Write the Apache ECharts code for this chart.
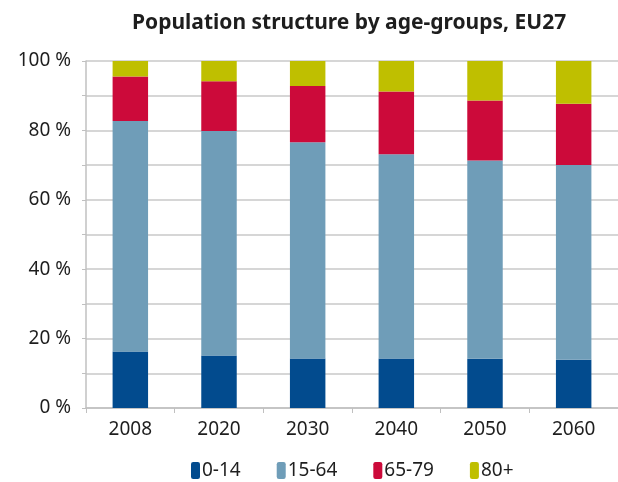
<!DOCTYPE html>
<html>
<head>
    <meta charset="utf-8" />
    <title>Population structure</title>
    <script src="https://cdn.jsdelivr.net/npm/echarts@6/dist/echarts.min.js"></script>
    <style>
        html, body { margin: 0; padding: 0; background: #fff; }
    </style>
</head>
<body>
    <div id="chart" style="width:618px;height:482px;"></div>
    <script>
        // data (share of population, %)
        var years = ['2008', '2020', '2030', '2040', '2050', '2060'];
        var age0to14 = [16.3, 15.1, 14.3, 14.3, 14.2, 13.9];
        var age15to64 = [66.4, 64.7, 62.3, 58.8, 57.1, 56.1];
        var age65to79 = [12.8, 14.4, 16.2, 18.1, 17.3, 17.7];
        var age80plus = [4.5, 5.8, 7.2, 8.8, 11.4, 12.3];
        var groupNames = ['0-14', '15-64', '65-79', '80+'];
        var groupColors = ['#024b8e', '#6f9db8', '#cc0a3a', '#bfbf00'];

        var font = 'Noto Sans';
        var myChart = echarts.init(document.getElementById('chart'));

        var seriesData = [age0to14, age15to64, age65to79, age80plus];
        var series = seriesData.map(function (d, i) {
            return {
                name: groupNames[i],
                type: 'bar',
                stack: 'total',
                barWidth: '40%',
                itemStyle: { color: groupColors[i] },
                data: d
            };
        });

        myChart.setOption({
            animation: false,
            textStyle: { fontFamily: font },
            title: {
                text: 'Population structure by age-groups, EU27',
                left: 127,
                top: 8,
                textStyle: { fontSize: 21, fontWeight: 'bold', color: '#1e1e1e', fontFamily: font }
            },
            legend: {
                data: groupNames,
                left: 186,
                top: 456,
                itemWidth: 9,
                itemHeight: 17,
                itemGap: 36,
                textStyle: { fontSize: 19, color: '#1e1e1e', padding: [0, 0, 0, -3] }
            },
            grid: { left: 86, right: 0, top: 61, bottom: 74 },
            xAxis: {
                type: 'category',
                data: years,
                axisLine: { lineStyle: { color: '#c0c0c0', width: 1.5 } },
                axisTick: { show: true, length: 5, lineStyle: { color: '#c0c0c0' } },
                axisLabel: { fontSize: 19, color: '#1e1e1e', margin: 12 }
            },
            yAxis: {
                type: 'value',
                min: 0,
                max: 100,
                interval: 10,
                axisLine: { show: true, lineStyle: { color: '#c0c0c0', width: 1.5 } },
                axisTick: { show: true, length: 4, lineStyle: { color: '#c0c0c0' } },
                splitLine: { lineStyle: { color: '#c8c8c8', width: 1.5 } },
                axisLabel: {
                    fontSize: 19,
                    color: '#1e1e1e',
                    margin: 15,
                    formatter: function (v) { return v % 20 === 0 ? v + ' %' : ''; }
                }
            },
            series: series
        });
    </script>
</body>
</html>
